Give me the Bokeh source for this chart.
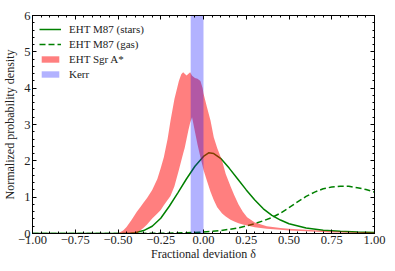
from bokeh.plotting import figure
from bokeh.models import Range1d, LinearAxis, FixedTicker, CustomJSTickFormatter, Legend, LegendItem
from bokeh.embed import file_html
from bokeh.resources import INLINE

# ---- data ----
stars_x = [-1.0, -0.75, -0.5, -0.45, -0.4, -0.35, -0.3, -0.25, -0.2, -0.15, -0.1, -0.05, 0.0, 0.03,
           0.06, 0.1, 0.15, 0.2, 0.25, 0.3, 0.35, 0.4, 0.45, 0.5, 0.6, 0.7, 0.8, 0.9, 1.0]
stars_y = [0.0, 0.0, 0.0, 0.003, 0.02, 0.08, 0.2, 0.42, 0.75, 1.12, 1.5, 1.85, 2.12, 2.22,
           2.2, 2.07, 1.8, 1.5, 1.2, 0.92, 0.68, 0.5, 0.37, 0.27, 0.15, 0.09, 0.06, 0.04, 0.03]

gas_x = [-1.0, -0.5, -0.3, -0.2, -0.1, 0.0, 0.1, 0.2, 0.3, 0.35, 0.4, 0.45, 0.5, 0.55, 0.6,
         0.65, 0.7, 0.75, 0.8, 0.85, 0.9, 0.95, 1.0]
gas_y = [0.0, 0.0, 0.005, 0.01, 0.02, 0.04, 0.08, 0.15, 0.27, 0.35, 0.44, 0.56, 0.71, 0.87, 1.02,
         1.14, 1.23, 1.28, 1.3, 1.3, 1.26, 1.21, 1.14]

sgr_x = [-0.55, -0.5, -0.47, -0.45, -0.42, -0.39, -0.37, -0.35, -0.33, -0.3, -0.27, -0.25, -0.232,
         -0.21, -0.193, -0.17, -0.144, -0.13, -0.119, -0.11, -0.099, -0.088, -0.078, -0.067, -0.05,
         -0.035, -0.018, -0.005, 0.0, 0.02, 0.041, 0.06, 0.08, 0.109, 0.13, 0.158, 0.18, 0.205, 0.23,
         0.255, 0.3, 0.37, 0.45, 0.5, 0.6, 0.75, 0.9, 1.0]
sgr_hi = [0, 0, 0.08, 0.18, 0.38, 0.6, 0.72, 0.85, 0.98, 1.2, 1.5, 1.8, 2.1, 2.6, 3.1, 3.7, 4.2,
          4.38, 4.44, 4.4, 4.35, 4.4, 4.44, 4.34, 4.28, 4.26, 4.2, 4.0, 3.85, 3.48, 3.11, 2.65, 2.35,
          2.0, 1.64, 1.3, 1.05, 0.8, 0.6, 0.45, 0.3, 0.2, 0.15, 0.13, 0.1, 0.06, 0.04, 0.03]
sgr_lo = [0, 0, 0, 0, 0, 0, 0.08, 0.16, 0.25, 0.41, 0.55, 0.65, 0.78, 0.92, 1.03, 1.3, 1.75, 2.0,
          2.2, 2.35, 2.6, 2.85, 3.05, 3.2, 2.8, 2.45, 2.1, 1.85, 1.75, 1.45, 1.15, 0.92, 0.72, 0.55,
          0.47, 0.38, 0.33, 0.28, 0.25, 0.22, 0.17, 0.13, 0.1, 0.08, 0.06, 0.03, 0.02, 0.01]

kerr_lo = [-0.075]
kerr_hi = [0.0]

x_ticks = [-1.0, -0.75, -0.5, -0.25, 0.0, 0.25, 0.5, 0.75, 1.0]
y_ticks = [0, 1, 2, 3, 4, 5, 6]

labels = ["EHT M87 (stars)", "EHT M87 (gas)", "EHT Sgr A*", "Kerr"]

FONT = "Liberation Serif"
TEXT_COLOR = "#222222"

x_minor = [round(-1.0 + 0.05 * i, 2) for i in range(41)]
y_minor = [round(0.2 * i, 1) for i in range(31)]

p = figure(width=395, height=271, x_range=Range1d(-1, 1), y_range=Range1d(0, 6),
           output_backend="svg", toolbar_location=None,
           min_border_left=32, min_border_right=21, min_border_top=15, min_border_bottom=38)
p.xgrid.visible = False
p.ygrid.visible = False
p.outline_line_color = "black"
p.outline_line_width = 1

r_stars = p.line(stars_x, stars_y, line_color="green", line_width=1.5)
r_gas = p.line(gas_x, gas_y, line_color="green", line_width=1.5, line_dash="6 3")
r_sgr = p.varea(x=sgr_x, y1=sgr_lo, y2=sgr_hi, fill_color="red", fill_alpha=0.5)
r_kerr = p.quad(left=kerr_lo, right=kerr_hi, bottom=[0], top=[6], fill_color="blue",
                fill_alpha=0.3, line_color=None)

fmt_x = CustomJSTickFormatter(code="return tick.toFixed(2).replace('-', '\u2212');")


def style_axis(ax, ticks, minor, show_labels):
    ax.ticker = FixedTicker(ticks=ticks, minor_ticks=minor)
    ax.axis_line_color = "black"
    ax.major_tick_in = 4
    ax.major_tick_out = 0
    ax.minor_tick_in = 2
    ax.minor_tick_out = 0
    ax.major_tick_line_color = "black"
    ax.minor_tick_line_color = "black"
    ax.major_label_text_font = FONT
    ax.major_label_text_color = TEXT_COLOR
    ax.major_label_text_font_size = "12.5px"
    ax.axis_label_text_font = FONT
    ax.axis_label_text_font_style = "normal"
    ax.axis_label_text_font_size = "12px"
    ax.axis_label_text_color = TEXT_COLOR
    if not show_labels:
        ax.major_label_text_color = None
        ax.major_label_standoff = 0


xa = p.xaxis[0]
style_axis(xa, x_ticks, x_minor, True)
xa.formatter = fmt_x
xa.axis_label = "Fractional deviation δ"
xa.major_label_standoff = 2
xa.axis_label_standoff = 0

ya = p.yaxis[0]
style_axis(ya, y_ticks, y_minor, True)
ya.axis_label = "Normalized probability density"
ya.major_label_standoff = 2
ya.axis_label_standoff = 4

top = LinearAxis()
style_axis(top, x_ticks, x_minor, False)
p.add_layout(top, "above")
right = LinearAxis()
style_axis(right, y_ticks, y_minor, False)
p.add_layout(right, "right")

legend = Legend(items=[LegendItem(label=labels[0], renderers=[r_stars]),
                       LegendItem(label=labels[1], renderers=[r_gas]),
                       LegendItem(label=labels[2], renderers=[r_sgr]),
                       LegendItem(label=labels[3], renderers=[r_kerr])],
                location="top_left")
legend.background_fill_alpha = 0
legend.border_line_alpha = 0
legend.label_text_font = FONT
legend.label_text_font_size = "11px"
legend.label_text_color = TEXT_COLOR
legend.glyph_width = 22
legend.glyph_height = 8
legend.label_height = 14
legend.spacing = 1
legend.margin = 0
legend.padding = 7
legend.label_standoff = 8
p.add_layout(legend)

open("out.html", "w").write(file_html(p, INLINE))
